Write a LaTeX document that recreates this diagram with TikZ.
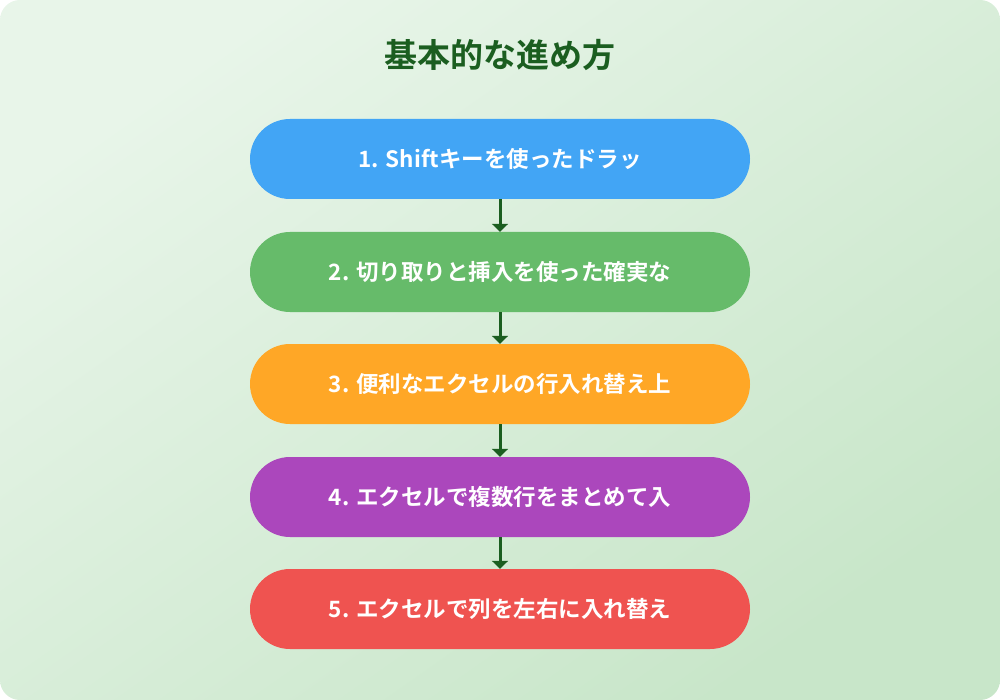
\documentclass[tikz,border=0pt]{standalone}
\usepackage{fontspec}
\setmainfont{Noto Sans CJK JP}[BoldFont={* Bold}]
\usetikzlibrary{arrows.meta}
\definecolor{bgA}{HTML}{E8F5E9}
\definecolor{bgB}{HTML}{C8E6C9}
\definecolor{ttl}{HTML}{1B5E20}
\definecolor{c1}{HTML}{42A5F5}
\definecolor{c2}{HTML}{66BB6A}
\definecolor{c3}{HTML}{FFA726}
\definecolor{c4}{HTML}{AB47BC}
\definecolor{c5}{HTML}{EF5350}
\tikzset{pill/.style={rounded corners=40pt,minimum width=500pt,minimum height=80pt,inner sep=0pt,text=white,font=\bfseries\fontsize{22.5pt}{26pt}\selectfont},
conn/.style={draw=ttl,line width=3pt,-{Triangle[width=16pt,length=8pt]}}}
\begin{document}
\begin{tikzpicture}[x=1pt,y=-1pt]
\useasboundingbox (0,0) rectangle (1000,700);
\shade[top color=bgA,bottom color=bgB,shading angle=35,rounded corners=20pt] (0,0) rectangle (1000,700);
\node[text=ttl,font=\bfseries\fontsize{33pt}{38pt}\selectfont] (t) at (500,55) {基本的な進め方};
\node[pill,fill=c1] (s1) at (500,159) {1. Shiftキーを使ったドラッ};
\node[pill,fill=c2] (s2) at (500,272) {2. 切り取りと挿入を使った確実な};
\node[pill,fill=c3] (s3) at (500,384) {3. 便利なエクセルの行入れ替え上};
\node[pill,fill=c4] (s4) at (500,497) {4. エクセルで複数行をまとめて入};
\node[pill,fill=c5] (s5) at (500,609) {5. エクセルで列を左右に入れ替え};
\foreach \a/\b in {s1/s2,s2/s3,s3/s4,s4/s5} \draw[conn] (\a.south) -- (\b.north);
\end{tikzpicture}
\end{document}
